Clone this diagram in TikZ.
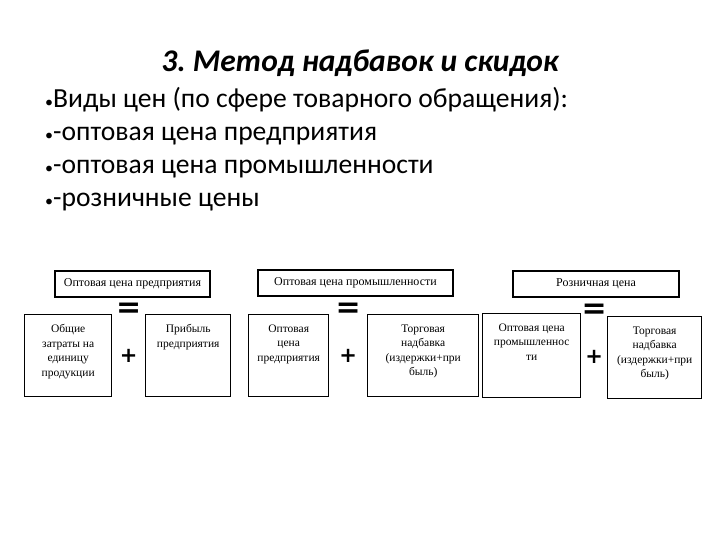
\documentclass[tikz,border=0pt]{standalone}
\usepackage{fontspec}
\setmainfont{Carlito}
\newfontfamily\boxfont{Liberation Serif}
\newfontfamily\signfont{DejaVu Sans}
\usetikzlibrary{positioning,calc}
\frenchspacing

\begin{document}
\begin{tikzpicture}[x=1pt, y=-1pt,
  price/.style={draw, line width=1.4pt, inner sep=0pt, minimum height=26, font=\boxfont\fontsize{12}{13}\selectfont},
  part/.style={draw, line width=1.4pt, inner sep=0pt, anchor=north west, font=\boxfont\fontsize{11.5}{14.5}\selectfont},
  sign/.style={inner sep=0pt, font=\signfont\bfseries\fontsize{30}{30}\selectfont},
  plus/.style={inner sep=0pt, font=\signfont\bfseries\fontsize{21}{21}\selectfont},
  item/.style={anchor=base west, inner sep=0pt, font=\fontsize{27.6}{30}\selectfont}]
\useasboundingbox (0,0) rectangle (720,540);
% heading and list
\node[font=\bfseries\itshape\fontsize{31.5}{34}\selectfont] (title) at (360,63) {3. Метод надбавок и скидок};
\node[item] (kinds) at (45,108) {{\fontsize{16}{16}\selectfont•}Виды цен (по сфере товарного обращения):};
\node[item] (ent) at (45,141) {{\fontsize{16}{16}\selectfont•}-оптовая цена предприятия};
\node[item] (ind) at (45,174) {{\fontsize{16}{16}\selectfont•}-оптовая цена промышленности};
\node[item] (ret) at (45,207) {{\fontsize{16}{16}\selectfont•}-розничные цены};
% enterprise wholesale price
\node[price, minimum width=155] (entp) at (132.5,284) {Оптовая цена предприятия};
\node[part] (cost) at (24,314) {\parbox[c][82pt][t]{87pt}{\centering\vspace*{10pt}Общие\\затраты на\\единицу\\продукции}};
\node[part] (profit) at (145,314) {\parbox[c][82pt][t]{85pt}{\centering\vspace*{10pt}Прибыль\\предприятия}};
\node[plus] (plus1) at ($(cost.east)!0.5!(profit.west)$) {+};
\node[sign] (eq1) at ($(plus1)+(0,-45)$) {=};
% industry wholesale price
\node[price, minimum width=195] (indp) at (355.5,283) {Оптовая цена промышленности};
\node[part] (whole) at (248,314) {\parbox[c][82pt][t]{80pt}{\centering\vspace*{10pt}Оптовая\\цена\\предприятия}};
\node[part] (markup) at (367,314) {\parbox[c][82pt][t]{111pt}{\centering\vspace*{10pt}Торговая\\надбавка\\(издержки+при\\быль)}};
\node[plus] (plus2) at ($(whole.east)!0.5!(markup.west)$) {+};
\node[sign] (eq2) at ($(plus2)+(0,-45)$) {=};
% retail price
\node[price, minimum width=166] (retp) at (596,284) {Розничная цена};
\node[part] (indw) at (482,313) {\parbox[c][84pt][t]{98pt}{\centering\vspace*{10pt}Оптовая цена\\промышленнос\\ти}};
\node[part] (retm) at (607,316) {\parbox[c][82pt][t]{94pt}{\centering\vspace*{10pt}Торговая\\надбавка\\(издержки+при\\быль)}};
\node[plus] (plus3) at ($(indw.east)!0.5!(retm.west)$) {+};
\node[sign] (eq3) at ($(plus3)+(0,-45)$) {=};
\end{tikzpicture}
\end{document}
